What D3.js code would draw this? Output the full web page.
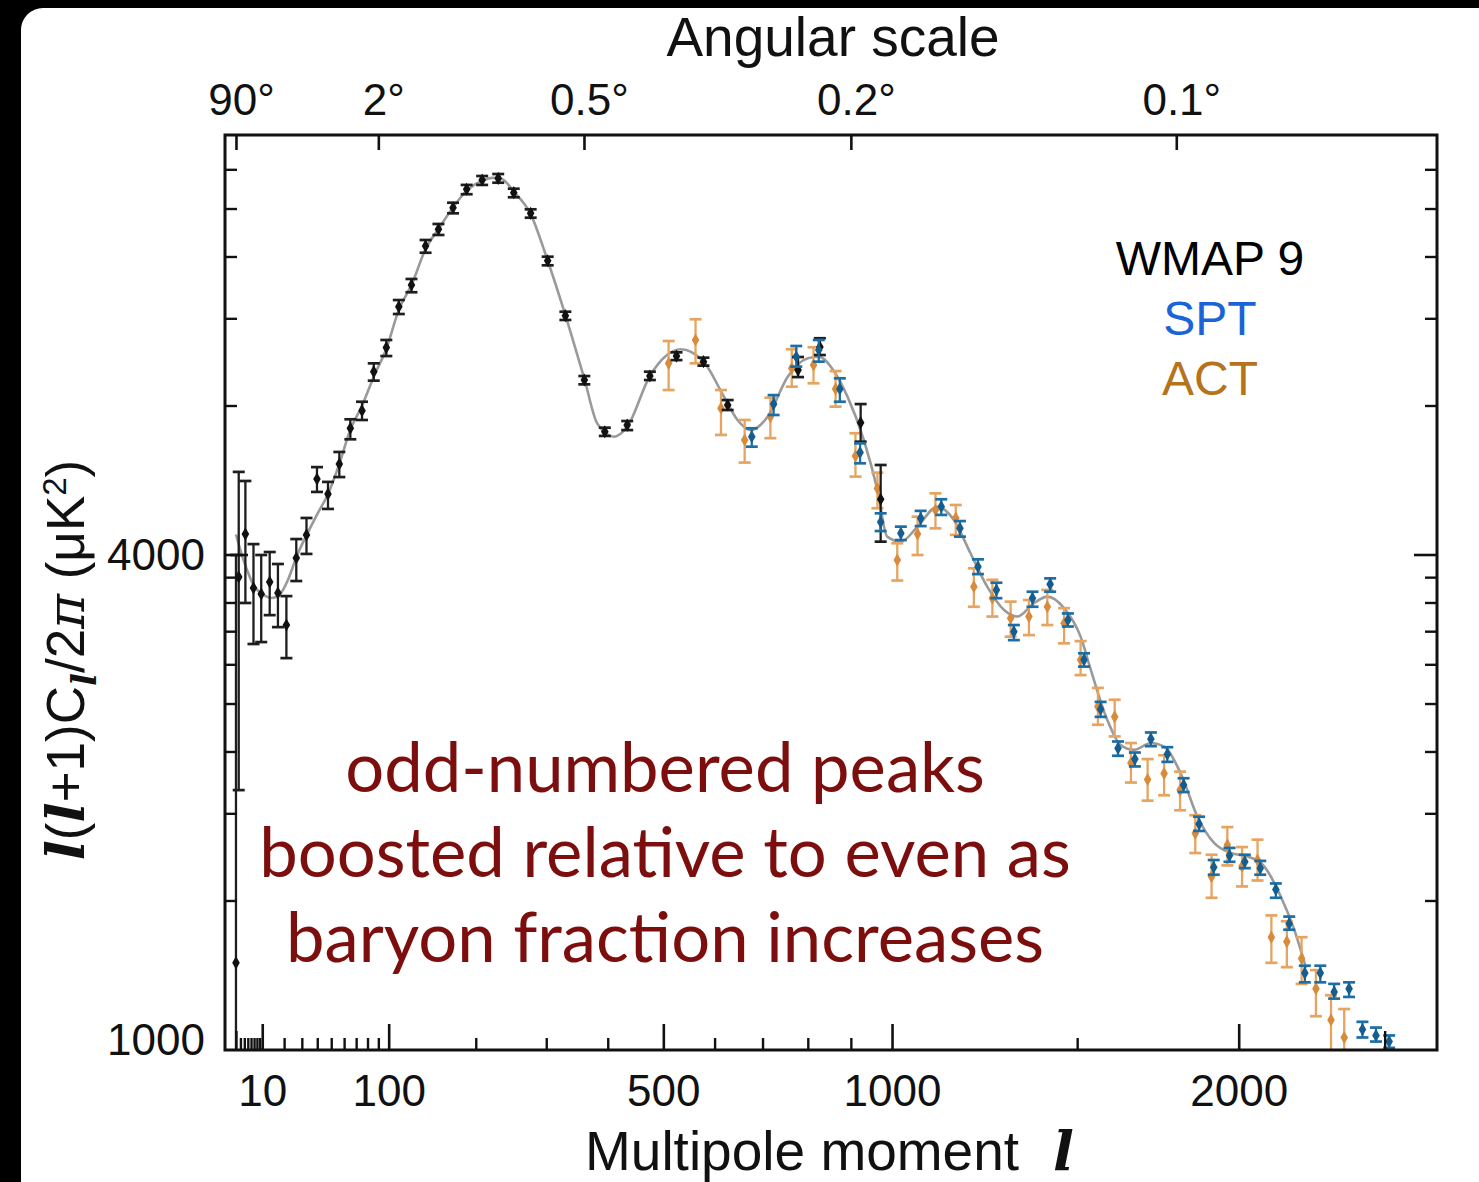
<!DOCTYPE html>
<html>
<head>
<meta charset="utf-8">
<script src="https://cdn.jsdelivr.net/npm/d3@7"></script>
<style>
body { margin: 0; background: #000; }
svg { display: block; }
text { font-family: "Liberation Sans", Arial, sans-serif; }
</style>
</head>
<body>
<script>
// ---- data ----
// WMAP 9 (black)
var wmapL  = [2, 2.6, 4.3, 6.8, 9.6, 13.1, 16.9, 21.2, 26.7, 32.9, 39.8, 47.6, 56.2, 65.1, 75.1, 85.7, 97.7, 110.2, 123.5, 139, 153.8, 171.3, 188.3, 208.4, 230.1, 251.9, 276.5, 302.2, 329.9, 360.6, 395, 434, 475, 525, 577.7, 626.7, 778, 827.6, 923.4, 972];
var wmapD  = [150, 903, 1102, 858, 834, 882, 838, 722, 986, 1098, 1424, 1328, 1527, 1803, 1957, 2346, 2624, 3174, 3512, 4210, 4550, 5030, 5482, 5722, 5768, 5396, 4901, 3931, 3044, 2257, 1774, 1830, 2299, 2523, 2458, 2009, 2364, 2632, 1851, 1296];
var wmapLo = [95, 335, 800, 661, 667, 756, 715, 619, 886, 1005, 1341, 1239, 1437, 1713, 1874, 2250, 2523, 3068, 3395, 4080, 4431, 4901, 5356, 5593, 5651, 5281, 4802, 3848, 2984, 2212, 1740, 1788, 2257, 2476, 2413, 1963, 2288, 2535, 1694, 1064];
var wmapHi = [1000, 1472, 1411, 1052, 1000, 1014, 959, 826, 1077, 1188, 1505, 1405, 1615, 1880, 2040, 2439, 2719, 3274, 3611, 4329, 4664, 5149, 5593, 5830, 5884, 5495, 4993, 4005, 3101, 2299, 1808, 1865, 2346, 2567, 2504, 2056, 2512, 2741, 2018, 1520];

// SPT (blue)
var sptL  = [677, 724, 774, 825, 874, 922, 972, 1022, 1072, 1125, 1174, 1222, 1272, 1320, 1372, 1422, 1473, 1520, 1569, 1621, 1672, 1721, 1772, 1823, 1872, 1919, 1970, 2020, 2071, 2123, 2168, 2221, 2274, 2322, 2374, 2421, 2469, 2516];
var sptD  = [1734, 2018, 2515, 2595, 2165, 1611, 1166, 1106, 1186, 1252, 1132, 947, 850, 700, 818, 873, 739, 614, 488, 407, 387, 425, 396, 343, 286, 234, 247, 240, 233, 211, 180, 143, 143, 131, 133, 110, 107, 104];
var sptLo = [1655, 1918, 2402, 2458, 2040, 1532, 1118, 1072, 1144, 1205, 1089, 915, 818, 673, 786, 843, 717, 595, 471, 393, 374, 411, 382, 332, 277, 226, 240, 233, 226, 203, 175, 137, 137, 127, 128, 106, 104, 101];
var sptHi = [1803, 2104, 2644, 2719, 2275, 1681, 1214, 1141, 1228, 1296, 1171, 980, 879, 722, 843, 897, 762, 633, 505, 420, 399, 438, 409, 354, 296, 242, 256, 248, 241, 217, 186, 148, 148, 136, 137, 114, 111, 107];

// ACT (orange)
var actL  = [510, 562, 613, 662, 717, 764, 813, 864, 911, 964, 1013, 1064, 1110, 1163, 1211, 1261, 1311, 1362, 1414, 1462, 1510, 1561, 1611, 1660, 1711, 1762, 1812, 1860, 1912, 1963, 2011, 2062, 2108, 2160, 2210, 2259, 2311, 2357];
var actD  = [2439, 2719, 1979, 1708, 1903, 2384, 2420, 2165, 1585, 1363, 977, 1102, 1233, 1188, 863, 818, 745, 751, 786, 728, 614, 494, 471, 380, 352, 362, 335, 274, 224, 259.5, 235, 242, 169, 165.5, 153, 133, 115, 106];
var actLo = [2154, 2439, 1748, 1537, 1722, 2188, 2223, 1994, 1440, 1243, 888, 1000, 1132, 1098, 786, 751, 684, 689, 722, 663, 572, 454, 430, 347, 319, 327, 305, 250, 203, 236, 214, 220, 150, 147, 136, 117, 90, 90];
var actHi = [2706, 2994, 2154, 1874, 2079, 2604, 2628, 2353, 1762, 1467, 1056, 1195, 1332, 1262, 940, 891, 805, 811, 850, 781, 670, 539, 510, 417, 387, 394, 365, 298, 248, 282, 257, 266, 187, 182, 169, 145, 129, 121];

// best-fit model curve (grey)
var fitL = [2, 3, 5, 7, 10, 14, 18, 22, 27, 33, 40, 47.6, 56.2, 65, 75, 86, 98, 110, 124, 139, 154, 171, 188, 208, 222, 235, 252, 276, 302, 330, 361, 382, 411, 434, 475, 507, 533, 578, 619, 647, 675, 711, 755, 800, 825, 861, 892, 931, 964, 988, 1022, 1064, 1115, 1158, 1202, 1247, 1293, 1329, 1376, 1414, 1462, 1510, 1540, 1589, 1629, 1670, 1721, 1762, 1814, 1867, 1920, 1974, 2029, 2084, 2140, 2185, 2225];
var fitD = [1100, 1023, 924, 866, 834, 819, 834, 890, 995, 1098, 1209, 1328, 1527, 1790, 2000, 2300, 2620, 3120, 3530, 4150, 4560, 5030, 5440, 5700, 5780, 5750, 5420, 4900, 3940, 3050, 2260, 1845, 1734, 1816, 2299, 2535, 2604, 2458, 2089, 1874, 1788, 1903, 2292, 2497, 2515, 2346, 2089, 1708, 1353, 1089, 1064, 1141, 1252, 1177, 1008, 863, 774, 751, 799, 824, 781, 684, 586, 464, 413, 404, 417, 410, 362, 296, 262, 250, 246, 235, 204, 175, 146.5];

// axes
var xMajor = [10, 100, 500, 1000, 2000];
var xMajorLabels = ["10", "100", "500", "1000", "2000"];
var xMinor = [3, 4, 5, 6, 7, 8, 9, 20, 30, 40, 50, 60, 70, 80, 90, 200, 300, 400, 600, 700, 800, 900, 1500];
var xMid = [2, 2500];
var angDeg = [90, 2, 0.5, 0.2, 0.1];
var angLabels = ["90°", "2°", "0.5°", "0.2°", "0.1°"];
var yMajor = [100, 1000];
var yMajorLabels = ["1000", "4000"];
var yMinor = [200, 300, 400, 500, 600, 700, 800, 900, 2000, 3000, 4000, 5000, 6000];

var legendNames = ["WMAP 9", "SPT", "ACT"];
var legendColors = ["#000000", "#1b63d6", "#b5731c"];
var noteLines = ["odd-numbered peaks", "boosted relative to even as", "baryon fraction increases"];

// ---- layout ----
var W = 1479, H = 1182;
var margin = { top: 135, left: 225 },
    width = 1212,
    height = 915;

var svg = d3.select("body").append("svg")
    .attr("width", W)
    .attr("height", H);

svg.append("rect").attr("width", W).attr("height", H).attr("fill", "#000");
svg.append("rect")
    .attr("x", 21).attr("y", 8)
    .attr("width", W + 40).attr("height", H + 40)
    .attr("rx", 22)
    .attr("fill", "#fff");

var x = d3.scalePow().exponent(0.6).domain([0.3, 2690]).range([0, width]);
var y = d3.scaleLog().domain([100, 7055]).range([height, 0]);

var g = svg.append("g")
    .attr("transform", "translate(" + margin.left + "," + margin.top + ")");

g.append("clipPath").attr("id", "clip")
    .append("rect").attr("width", width).attr("height", height);

// annotation (behind data)
var note = g.append("g").attr("class", "note");
var noteText = note.selectAll("text")
    .data(noteLines)
    .enter().append("text")
    .attr("x", 440)
    .attr("y", (d, i) => 657 + i * 85)
    .attr("text-anchor", "middle")
    .style("font-family", "Lato, 'Noto Sans', sans-serif")
    .style("font-size", "64px")
    .attr("fill", "#7d0e0e")
    .text(d => d);
// size the block so the widest line matches the picture
var w2 = noteText.nodes()[1].getComputedTextLength();
noteText.style("font-size", (64 * 812 / w2).toFixed(1) + "px");

var plot = g.append("g").attr("clip-path", "url(#clip)");

// model curve
var line = d3.line()
    .x(d => x(d[0]))
    .y(d => y(d[1]))
    .curve(d3.curveMonotoneX);
plot.append("path")
    .datum(fitL.map((l, i) => [l, fitD[i]]))
    .attr("d", line)
    .attr("fill", "none")
    .attr("stroke", "#9a9a9a")
    .attr("stroke-width", 2.6);

var diamond = d3.symbol().type(d3.symbolDiamond).size(50);

function drawSeries(L, D, lo, hi, barColor, dotColor) {
    var data = L.map((l, i) => ({ l: l, d: D[i], lo: lo[i], hi: hi[i] }));
    var s = plot.append("g");
    s.selectAll(".bar").data(data).enter().append("line")
        .attr("class", "bar")
        .attr("x1", d => x(d.l)).attr("x2", d => x(d.l))
        .attr("y1", d => y(d.hi)).attr("y2", d => y(d.lo))
        .attr("stroke", barColor).attr("stroke-width", 2.3);
    ["hi", "lo"].forEach(k => {
        s.selectAll(".cap-" + k).data(data).enter().append("line")
            .attr("class", "cap-" + k)
            .attr("x1", d => x(d.l) - 6).attr("x2", d => x(d.l) + 6)
            .attr("y1", d => y(d[k])).attr("y2", d => y(d[k]))
            .attr("stroke", barColor).attr("stroke-width", 2.7);
    });
    s.selectAll(".dot").data(data).enter().append("path")
        .attr("class", "dot")
        .attr("transform", d => "translate(" + x(d.l) + "," + y(d.d) + ")")
        .attr("d", diamond)
        .attr("fill", dotColor);
}

drawSeries(actL, actD, actLo, actHi, "#e6a460", "#d98b3c");
drawSeries(wmapL, wmapD, wmapLo, wmapHi, "#1e1e1e", "#111");
drawSeries(sptL, sptD, sptLo, sptHi, "#1c6ea6", "#165d8f");

// ---- axes ----
function inwardBottom(vals, len) {
    g.append("g")
        .attr("transform", "translate(0," + height + ")")
        .call(d3.axisBottom(x).tickValues(vals).tickSize(-len).tickFormat(""))
        .call(a => a.select(".domain").remove())
        .selectAll("line").attr("stroke", "#111").attr("stroke-width", 2.4);
}
inwardBottom(xMinor, 12);
inwardBottom(xMid, 19);

var xAxis = g.append("g")
    .attr("transform", "translate(0," + height + ")")
    .call(d3.axisBottom(x).tickValues(xMajor).tickSize(-26).tickPadding(25)
        .tickFormat((d, i) => xMajorLabels[i]));
xAxis.select(".domain").remove();
xAxis.selectAll("line").attr("stroke", "#111").attr("stroke-width", 2.6);
xAxis.selectAll("text")
    .style("font-family", "'Liberation Sans', Arial, sans-serif")
    .style("font-size", "44px").attr("fill", "#111");

// top angular scale, l = 180 / theta
var topAxis = g.append("g")
    .call(d3.axisTop(x).tickValues(angDeg.map(a => 180 / a)).tickSize(-15).tickPadding(20)
        .tickFormat((d, i) => angLabels[i]));
topAxis.select(".domain").remove();
topAxis.selectAll("line").attr("stroke", "#111").attr("stroke-width", 2.6);
topAxis.selectAll("text")
    .attr("dx", "5")
    .style("font-family", "'Liberation Sans', Arial, sans-serif")
    .style("font-size", "44px").attr("fill", "#111");

// y ticks on both sides
[0, width].forEach((pos, side) => {
    var sign = side === 0 ? 1 : -1;
    var ax = g.append("g").attr("transform", "translate(" + pos + ",0)");
    ax.selectAll(".ymin").data(yMinor).enter().append("line")
        .attr("x1", 0).attr("x2", sign * 12)
        .attr("y1", d => y(d)).attr("y2", d => y(d))
        .attr("stroke", "#111").attr("stroke-width", 2.4);
    ax.selectAll(".ymaj").data([1000]).enter().append("line")
        .attr("x1", 0).attr("x2", sign * 23)
        .attr("y1", d => y(d)).attr("y2", d => y(d))
        .attr("stroke", "#111").attr("stroke-width", 2.6);
});

g.selectAll(".ylab").data(yMajor).enter().append("text")
    .attr("class", "ylab")
    .attr("x", -20)
    .attr("y", (d, i) => y(d) + (i === 0 ? -10 : 0))
    .attr("dy", "0.35em")
    .attr("text-anchor", "end")
    .style("font-size", "44px")
    .attr("fill", "#111")
    .text((d, i) => yMajorLabels[i]);

// frame
g.append("rect")
    .attr("width", width).attr("height", height)
    .attr("fill", "none").attr("stroke", "#111").attr("stroke-width", 3);

// axis titles
svg.append("text")
    .attr("x", 833).attr("y", 56)
    .attr("text-anchor", "middle")
    .style("font-size", "55px")
    .attr("fill", "#111")
    .text("Angular scale");

var xt = svg.append("text")
    .attr("x", 585).attr("y", 1170)
    .style("font-size", "55px")
    .attr("fill", "#111");
xt.append("tspan").text("Multipole moment");
xt.append("tspan")
    .attr("dx", 34)
    .style("font-family", "'DejaVu Serif', serif")
    .style("font-style", "italic").style("font-weight", "bold")
    .text("l");

var yt = svg.append("text")
    .attr("transform", "translate(84,660) rotate(-90)")
    .attr("text-anchor", "middle")
    .style("font-size", "53px")
    .attr("fill", "#111");
var ital = s => s.style("font-family", "'DejaVu Serif', serif").style("font-style", "italic").style("font-weight", "bold");
yt.append("tspan").call(ital).text("l");
yt.append("tspan").text("(");
yt.append("tspan").call(ital).text("l");
yt.append("tspan").text("+1)C");
yt.append("tspan").call(ital).attr("dy", 12).style("font-size", "34px").text("l");
yt.append("tspan").attr("dy", -12).text("/2");
yt.append("tspan").style("font-family", "'DejaVu Serif', serif").style("font-style", "italic").text("π");
yt.append("tspan").text(" (μK");
yt.append("tspan").attr("dy", -18).style("font-size", "33px").text("2");
yt.append("tspan").attr("dy", 18).text(")");

// legend
svg.selectAll(".legend").data(legendNames).enter().append("text")
    .attr("class", "legend")
    .attr("x", 1210)
    .attr("y", (d, i) => 275 + i * 60)
    .attr("text-anchor", "middle")
    .style("font-size", "48px")
    .attr("fill", (d, i) => legendColors[i])
    .text(d => d);
</script>
</body>
</html>
